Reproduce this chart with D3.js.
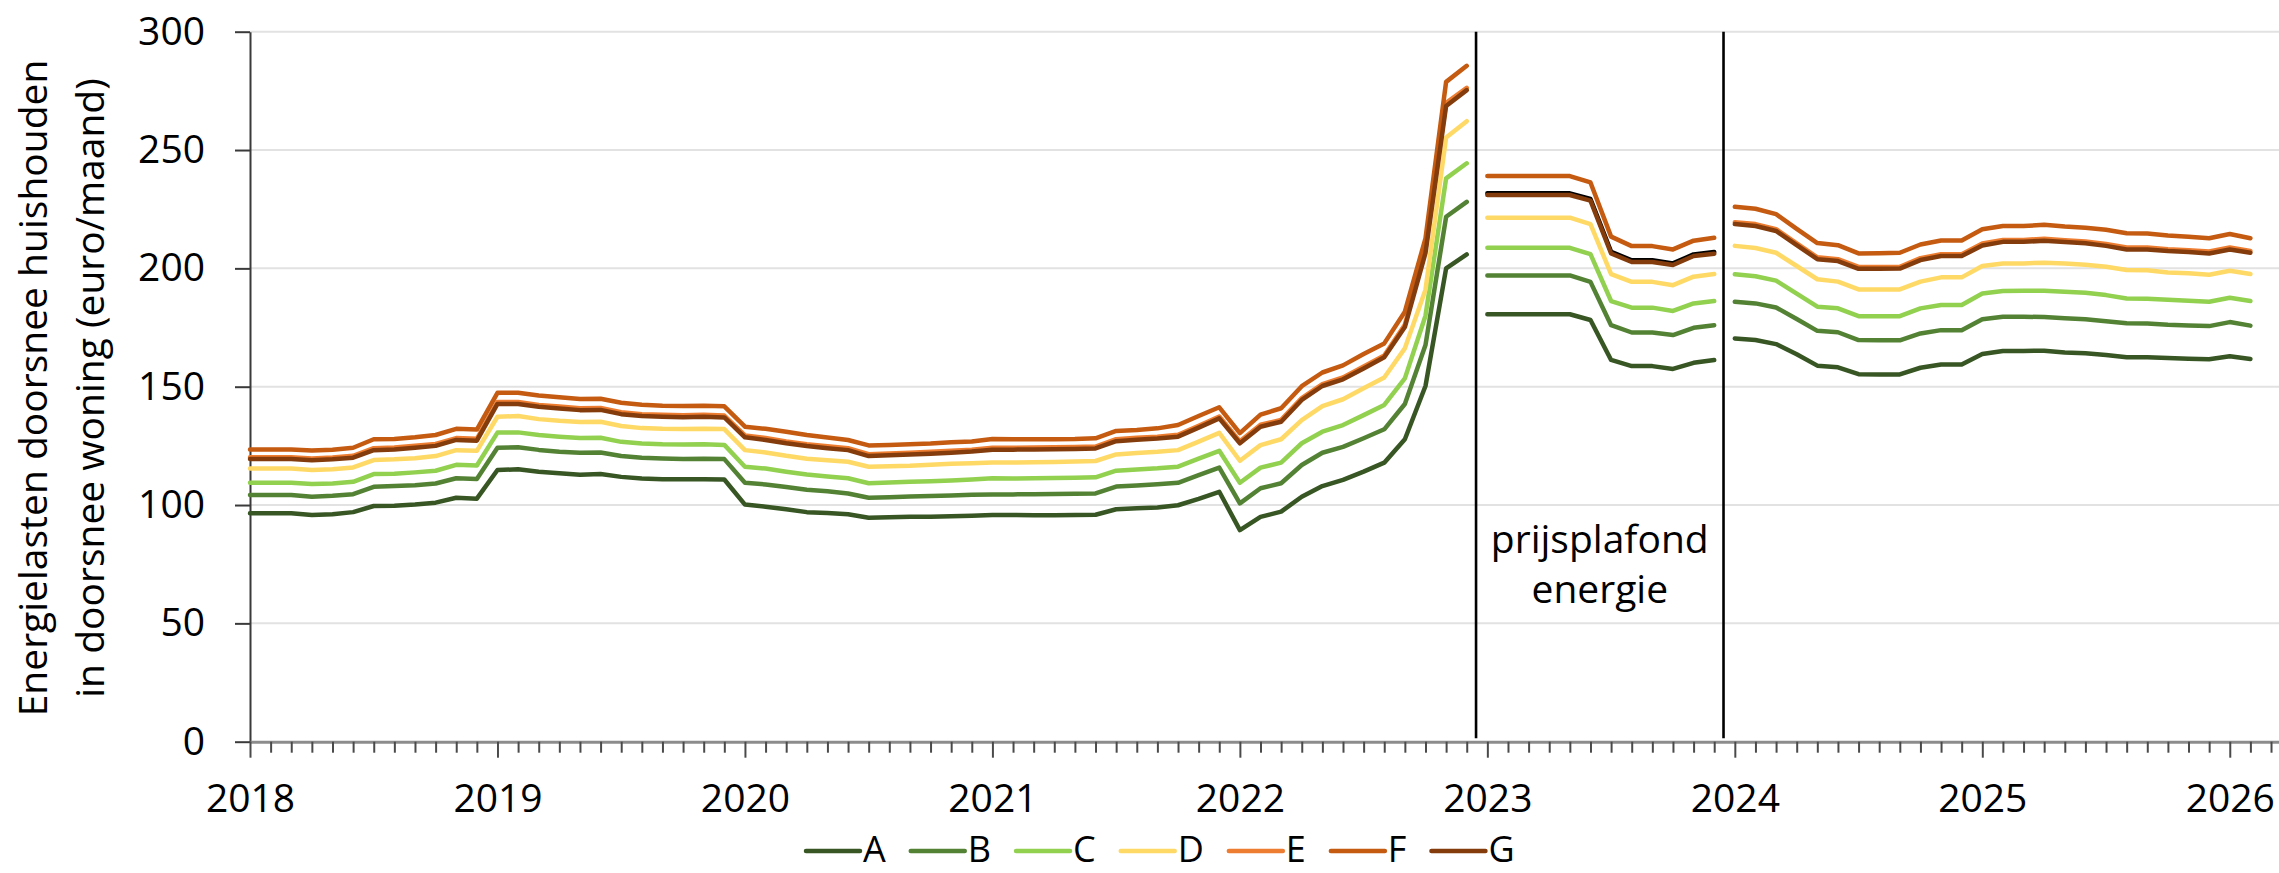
<!DOCTYPE html>
<html>
<head>
<meta charset="utf-8">
<script src="https://cdn.jsdelivr.net/npm/d3@7"></script>
<style>
  html, body { margin: 0; padding: 0; background: #fff; }
  svg { display: block; font-family: "Open Sans", "Noto Sans", sans-serif; }
</style>
</head>
<body>
<svg id="chart" width="2279" height="873"></svg>
<script>
// ---- data -------------------------------------------------------------
// Monthly values, Jan 2018 .. Feb 2026 (98 months). The line is broken at
// each entry of segmentStarts.
const firstMonth = "2018-01";
const segmentStarts = ["2018-01", "2023-01", "2024-01"];
const separatorDates = ["2022-12-15", "2023-12-15"];
const axisEndDate = "2026-03-13";
const yearLabels = ["2018", "2019", "2020", "2021", "2022", "2023", "2024", "2025", "2026"];
const yTicks = [0, 50, 100, 150, 200, 250, 300];
const seriesNames = ["A", "B", "C", "D", "E", "F", "G"];
const seriesColors = ["#375623", "#548235", "#92D050", "#FFD966", "#ED7D31", "#C55A11", "#843C0C"];
// series E is drawn in black during the price-cap year
const segmentColorOverride = { E: { 1: "#000000" } };
const yTitleLines = ["Energielasten doorsnee huishouden", "in doorsnee woning (euro/maand)"];
const capLabelLines = ["prijsplafond", "energie"];

const A = [
  96.5, 96.5, 96.5, 95.8, 96.1, 97.0, 99.6, 99.7, 100.2, 101.0, 103.1, 102.7,
  114.8, 115.1, 114.1, 113.4, 112.8, 113.1, 111.9, 111.2, 110.9, 110.9, 110.9, 110.8,
  100.2, 99.3, 98.2, 97.0, 96.6, 96.1, 94.6, 94.8, 95.0, 95.1, 95.3, 95.5,
  95.8, 95.8, 95.7, 95.7, 95.8, 95.9, 98.2, 98.6, 99.0, 99.9, 102.6, 105.6,
  89.4, 95.0, 97.2, 103.5, 108.0, 110.6, 114.1, 117.9, 127.8, 150.3, 200.0, 205.9,
  180.6, 180.6, 180.6, 180.6, 180.6, 178.2, 161.3, 158.7, 158.7, 157.5, 160.1, 161.3,
  170.4, 169.7, 168.0, 163.7, 158.9, 158.2, 155.3, 155.2, 155.2, 158.0, 159.4, 159.4,
  163.8, 165.1, 165.1, 165.2, 164.5, 164.1, 163.4, 162.4, 162.4, 162.1, 161.8, 161.6,
  162.9, 161.7
];
const B = [
  104.2, 104.2, 104.2, 103.5, 103.9, 104.6, 107.7, 108.0, 108.4, 109.1, 111.3, 111.0,
  124.2, 124.4, 123.3, 122.5, 122.1, 122.2, 120.7, 120.0, 119.7, 119.4, 119.6, 119.4,
  109.4, 108.7, 107.6, 106.5, 105.8, 104.9, 103.1, 103.3, 103.6, 103.8, 104.0, 104.3,
  104.5, 104.5, 104.6, 104.7, 104.8, 104.9, 107.8, 108.3, 108.8, 109.4, 112.6, 115.8,
  100.7, 107.1, 109.2, 116.9, 122.1, 124.6, 128.2, 132.0, 142.7, 167.6, 221.8, 228.1,
  197.0, 197.0, 197.0, 197.0, 197.0, 194.3, 176.0, 172.9, 172.9, 171.8, 174.9, 176.0,
  185.9, 185.2, 183.5, 178.6, 173.6, 173.0, 169.7, 169.6, 169.6, 172.5, 173.9, 173.9,
  178.5, 179.6, 179.6, 179.4, 178.9, 178.5, 177.7, 176.8, 176.7, 176.2, 175.9, 175.6,
  177.3, 175.8
];
const C = [
  109.4, 109.4, 109.4, 108.9, 109.1, 109.8, 113.1, 113.2, 113.8, 114.5, 117.0, 116.7,
  130.6, 130.7, 129.6, 128.9, 128.3, 128.4, 126.7, 126.0, 125.7, 125.6, 125.7, 125.4,
  116.2, 115.4, 114.1, 112.9, 112.1, 111.3, 109.2, 109.5, 109.8, 110.1, 110.4, 110.8,
  111.3, 111.2, 111.3, 111.4, 111.5, 111.7, 114.5, 115.0, 115.5, 116.2, 119.6, 122.9,
  109.4, 115.8, 117.9, 126.1, 131.0, 133.8, 138.0, 142.3, 153.5, 180.0, 238.0, 244.4,
  208.7, 208.7, 208.7, 208.7, 208.7, 206.0, 186.2, 183.4, 183.4, 182.0, 185.2, 186.2,
  197.5, 196.7, 194.8, 189.3, 183.8, 183.1, 179.8, 179.8, 179.8, 183.1, 184.5, 184.5,
  189.4, 190.4, 190.5, 190.5, 190.1, 189.7, 188.7, 187.3, 187.2, 186.7, 186.3, 185.9,
  187.6, 186.2
];
const D = [
  115.4, 115.4, 115.4, 114.8, 115.1, 115.9, 119.0, 119.3, 119.8, 120.7, 123.2, 122.9,
  137.3, 137.6, 136.3, 135.6, 135.1, 135.2, 133.4, 132.5, 132.2, 132.1, 132.2, 132.1,
  123.2, 122.2, 120.8, 119.6, 118.9, 118.3, 116.2, 116.4, 116.6, 117.0, 117.4, 117.7,
  118.0, 118.0, 118.1, 118.2, 118.4, 118.6, 121.4, 122.0, 122.5, 123.2, 126.8, 130.5,
  118.7, 125.3, 127.8, 135.9, 141.8, 144.7, 149.3, 153.9, 166.2, 191.0, 255.3, 262.2,
  221.4, 221.4, 221.4, 221.4, 221.4, 218.7, 197.6, 194.3, 194.3, 192.9, 196.5, 197.6,
  209.5, 208.6, 206.6, 201.0, 195.4, 194.4, 191.1, 191.1, 191.1, 194.4, 196.2, 196.2,
  201.0, 202.1, 202.1, 202.4, 202.1, 201.5, 200.7, 199.3, 199.2, 198.3, 197.9, 197.3,
  199.0, 197.6
];
const E = [
  120.2, 120.2, 120.2, 119.7, 120.1, 120.8, 124.0, 124.3, 125.0, 125.8, 128.3, 128.0,
  143.5, 143.5, 142.3, 141.6, 140.9, 141.0, 139.2, 138.4, 138.1, 137.9, 138.1, 137.8,
  129.4, 128.3, 126.9, 125.7, 124.8, 124.0, 121.5, 121.8, 122.1, 122.5, 122.9, 123.4,
  124.2, 124.2, 124.3, 124.4, 124.5, 124.7, 127.8, 128.4, 128.9, 129.7, 133.5, 137.4,
  126.9, 133.9, 136.0, 145.2, 151.1, 153.9, 158.5, 163.2, 176.2, 208.0, 270.0, 276.3,
  231.7, 231.7, 231.7, 231.7, 231.7, 229.3, 207.0, 203.4, 203.4, 202.1, 205.9, 206.9,
  219.5, 218.7, 216.6, 210.6, 204.7, 203.9, 200.6, 200.6, 200.7, 204.3, 206.0, 206.0,
  210.5, 212.0, 212.0, 212.5, 211.9, 211.4, 210.3, 208.8, 208.8, 208.1, 207.7, 207.1,
  208.8, 207.4
];
const F = [
  123.5, 123.5, 123.5, 123.0, 123.4, 124.2, 127.8, 127.9, 128.6, 129.6, 132.2, 131.9,
  147.4, 147.4, 146.3, 145.5, 144.8, 144.9, 143.2, 142.4, 142.0, 141.8, 142.0, 141.7,
  133.1, 132.2, 131.0, 129.6, 128.5, 127.5, 125.2, 125.4, 125.7, 126.0, 126.5, 126.8,
  127.9, 127.8, 127.8, 127.8, 127.9, 128.2, 131.3, 131.7, 132.4, 133.8, 137.6, 141.3,
  130.4, 138.2, 140.9, 150.2, 156.0, 159.0, 163.8, 168.3, 181.7, 212.7, 278.8, 285.6,
  239.0, 239.0, 239.0, 239.0, 239.0, 236.3, 213.4, 209.4, 209.4, 208.0, 211.7, 212.9,
  226.0, 225.2, 222.9, 216.7, 210.7, 209.8, 206.3, 206.4, 206.6, 210.1, 211.8, 211.8,
  216.5, 217.9, 217.9, 218.4, 217.7, 217.2, 216.3, 214.8, 214.7, 213.9, 213.4, 212.7,
  214.5, 212.7
];
const G = [
  119.4, 119.4, 119.4, 118.9, 119.3, 120.0, 123.2, 123.5, 124.2, 125.0, 127.5, 127.2,
  142.7, 142.7, 141.5, 140.8, 140.1, 140.2, 138.4, 137.6, 137.3, 137.1, 137.3, 137.0,
  128.6, 127.5, 126.1, 124.9, 124.0, 123.2, 120.7, 121.0, 121.3, 121.7, 122.1, 122.6,
  123.4, 123.4, 123.5, 123.6, 123.7, 123.9, 127.0, 127.6, 128.1, 128.9, 132.7, 136.6,
  126.1, 133.1, 135.2, 144.4, 150.3, 153.1, 157.7, 162.4, 175.2, 206.5, 268.6, 275.3,
  231.0, 231.0, 231.0, 231.0, 231.0, 228.6, 206.3, 202.7, 202.7, 201.4, 205.2, 206.2,
  218.7, 217.9, 215.8, 209.8, 203.9, 203.1, 199.8, 199.8, 199.9, 203.5, 205.2, 205.2,
  209.7, 211.2, 211.2, 211.7, 211.1, 210.6, 209.5, 208.0, 208.0, 207.3, 206.9, 206.3,
  208.0, 206.6
];
const seriesValues = [A, B, C, D, E, F, G];

// ---- helpers ----------------------------------------------------------
function monthIndex(s) {
  const p = s.split("-").map(Number);
  const [y0, m0] = firstMonth.split("-").map(Number);
  return (p[0] - y0) * 12 + (p[1] - m0) + (p.length > 2 ? (p[2] - 1) / 31 : 0);
}

// ---- layout -----------------------------------------------------------
const W = 2279, H = 873;
const plotLeft = 250, plotTop = 31.7, plotBottom = 741.7, plotRight = W;
const FONT = 39;

const svg = d3.select("#chart");

const x = d3.scaleLinear()
  .domain([0, monthIndex(axisEndDate)])
  .range([plotLeft, plotRight]);
const y = d3.scaleLinear()
  .domain([0, 300])
  .range([plotBottom, plotTop]);

// horizontal gridlines
svg.append("g")
  .selectAll("line")
  .data(yTicks.filter(v => v > 0))
  .join("line")
  .attr("x1", plotLeft).attr("x2", plotRight)
  .attr("y1", d => y(d)).attr("y2", d => y(d))
  .attr("stroke", "#e2e2e2").attr("stroke-width", 2);

// y axis
const yAxis = svg.append("g")
  .attr("transform", `translate(${plotLeft},0)`)
  .call(d3.axisLeft(y).tickValues(yTicks).tickSize(15).tickSizeOuter(0).tickPadding(30));
yAxis.select(".domain").attr("stroke", "#3a3a3a").attr("stroke-width", 2);
yAxis.selectAll(".tick line").attr("stroke", "#3a3a3a").attr("stroke-width", 2);
yAxis.selectAll(".tick text")
  .attr("font-size", FONT).attr("fill", "#000")
  .attr("font-family", "'Open Sans', sans-serif");

// x axis: a tick per month, longer ticks and labels at each January
const monthTicks = d3.range(0, Math.floor(monthIndex(axisEndDate)) + 1);
const xAxis = svg.append("g")
  .attr("transform", `translate(0,${plotBottom})`)
  .call(d3.axisBottom(x)
    .tickValues(monthTicks)
    .tickSize(11)
    .tickSizeOuter(0)
    .tickFormat(i => (i % 12 === 0 ? yearLabels[i / 12] : "")));
xAxis.select(".domain").attr("stroke", "#8c8c8c").attr("stroke-width", 3);
xAxis.selectAll(".tick line")
  .attr("stroke", "#4a4a4a").attr("stroke-width", 2)
  .attr("y2", d => (d % 12 === 0 ? 16 : 11));
xAxis.selectAll(".tick text")
  .attr("font-size", FONT).attr("fill", "#000")
  .attr("font-family", "'Open Sans', sans-serif")
  .attr("y", 70).attr("dy", 0);

// y-axis title
const yTitle = svg.append("g");
[47, 104].forEach((bx, i) => {
  yTitle.append("text")
    .attr("transform", `translate(${bx},388) rotate(-90)`)
    .attr("text-anchor", "middle")
    .attr("font-size", FONT)
    .attr("fill", "#000")
    .text(yTitleLines[i]);
});

// price-cap separators
const sepX = separatorDates.map(monthIndex);
svg.append("g")
  .selectAll("line")
  .data(sepX)
  .join("line")
  .attr("x1", d => x(d)).attr("x2", d => x(d))
  .attr("y1", y(300)).attr("y2", y(1.5))
  .attr("stroke", "#000").attr("stroke-width", 2.6);

const capMid = (x(sepX[0]) + x(sepX[1])) / 2;
svg.append("g")
  .selectAll("text")
  .data(capLabelLines)
  .join("text")
  .attr("x", capMid)
  .attr("y", (d, i) => 553 + i * 50)
  .attr("text-anchor", "middle")
  .attr("font-size", FONT)
  .attr("fill", "#000")
  .text(d => d);

// series lines, broken at every segment start
const breaks = segmentStarts.map(monthIndex).concat([Infinity]);
const line = d3.line()
  .x(d => x(d.i))
  .y(d => y(d.v));

const linesG = svg.append("g")
  .attr("fill", "none")
  .attr("stroke-linecap", "round")
  .attr("stroke-linejoin", "round");

seriesNames.forEach((name, s) => {
  const values = seriesValues[s];
  for (let k = 0; k < breaks.length - 1; k++) {
    const pts = values
      .map((v, i) => ({ i, v }))
      .filter(d => d.i >= breaks[k] && d.i < breaks[k + 1]);
    const override = segmentColorOverride[name] && segmentColorOverride[name][k];
    linesG.append("path")
      .datum(pts)
      .attr("d", line)
      .attr("stroke", override || seriesColors[s])
      .attr("stroke-width", 4.5);
  }
});

// legend
const legend = svg.append("g");
let lx = 806;
const ly = 851;
seriesNames.forEach((name, s) => {
  legend.append("line")
    .attr("x1", lx).attr("x2", lx + 54)
    .attr("y1", ly).attr("y2", ly)
    .attr("stroke", seriesColors[s]).attr("stroke-width", 4.5)
    .attr("stroke-linecap", "round");
  const t = legend.append("text")
    .attr("x", lx + 57)
    .attr("y", ly + 11)
    .attr("font-size", 36)
    .attr("fill", "#000")
    .text(name);
  lx += 57 + t.node().getComputedTextLength() + 25;
});
</script>
</body>
</html>
